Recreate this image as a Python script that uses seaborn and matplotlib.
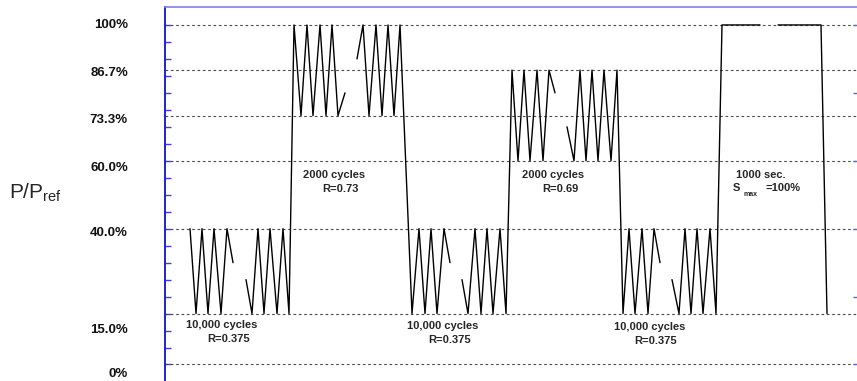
import numpy as np
import pandas as pd
import matplotlib
matplotlib.use("Agg")
import matplotlib.pyplot as plt
import seaborn as sns

# ---------------- data ----------------
# time in arbitrary units, load in % of P_ref; segment id separates broken pieces
time_a = [25, 31, 37, 43, 49, 56, 62, 68]
load_a = [40, 15, 40, 15, 40, 15, 40, 30]

time_b = [81, 87, 93, 99, 105, 112, 118, 124, 129, 136, 142, 148, 155, 161, 167, 173, 180]
load_b = [25, 15, 40, 15, 40, 15, 40, 15, 100, 73.3, 100, 73.3, 100, 73.3, 100, 73.3, 80]

time_c = [192, 198, 204, 211, 217, 223, 229, 235, 247, 254, 260, 266, 272, 279, 285]
load_c = [90, 100, 73.3, 100, 73.3, 100, 73.3, 100, 15, 40, 15, 40, 15, 40, 30]

time_d = [297, 303, 310, 316, 322, 328, 335, 341, 347, 353, 359, 365, 372, 378, 384, 390]
load_d = [25, 15, 40, 15, 40, 15, 40, 15, 86.7, 60, 86.7, 60, 86.7, 60, 86.7, 80]

time_e = [402, 409, 415, 421, 427, 433, 439, 446, 452, 458, 464, 470, 477, 483, 489, 495]
load_e = [70, 60, 86.7, 60, 86.7, 60, 86.7, 60, 86.7, 15, 40, 15, 40, 15, 40, 30]

time_f = [507, 514, 520, 526, 532, 538, 545, 551, 557, 595]
load_f = [25, 15, 40, 15, 40, 15, 40, 15, 100, 100]

time_g = [613, 656, 662]
load_g = [100, 100, 15]

grid_levels = [0, 15, 40, 60, 73.3, 86.7, 100]
level_labels = ["0%", "15.0%", "40.0%", "60.0%", "73.3%", "86.7%", "100%"]

block_text = [
    ("10,000 cycles", "R=0.375"),
    ("2000 cycles", "R=0.73"),
    ("10,000 cycles", "R=0.375"),
    ("2000 cycles", "R=0.69"),
    ("10,000 cycles", "R=0.375"),
]
hold_text = "1000 sec."
hold_text2 = "=100%"

# ---------------- build table ----------------
segments = [(time_a, load_a), (time_b, load_b), (time_c, load_c), (time_d, load_d),
            (time_e, load_e), (time_f, load_f), (time_g, load_g)]
rows = []
for sid, (t, p) in enumerate(segments):
    for ti, pi in zip(t, p):
        rows.append({"time": ti, "load": pi, "seg": sid})
df = pd.DataFrame(rows)

# ---------------- style ----------------
sns.set_theme(style="white")
plt.rcParams["font.family"] = ["Liberation Sans", "DejaVu Sans"]
plt.rcParams["mathtext.fontset"] = "custom"
plt.rcParams["mathtext.rm"] = "Liberation Sans"
plt.rcParams["mathtext.default"] = "regular"

fig = plt.figure(figsize=(8.57, 3.81), dpi=100)
ax = fig.add_axes([165 / 857, 0.0, 692 / 857, 1 - 7.3 / 381])
ax.set_xlim(0, 692)
ax.set_ylim(-4.86, 105.2)

# grid lines
for lv in grid_levels:
    ax.axhline(lv, color="#4a4a4a", lw=0.8, dashes=(2.4, 2.4), zorder=1)

sns.lineplot(data=df, x="time", y="load", units="seg", estimator=None, sort=False,
             color="black", lw=1.0, ax=ax, legend=False, zorder=3)

ax.set_xlabel("")
ax.set_ylabel("")
ax.set_xticks([])
ax.set_yticks(np.arange(0, 101, 5))
ax.set_yticklabels([])
ax.tick_params(axis="y", which="both", left=True, right=False, direction="in",
               length=4, width=1.0, color="#4040e0")

for side in ["right", "bottom"]:
    ax.spines[side].set_visible(False)
ax.spines["left"].set_color("#1010d0")
ax.spines["left"].set_linewidth(1.3)
ax.spines["top"].set_color("#8080e6")
ax.spines["top"].set_linewidth(1.2)

# right side small ticks
ax2 = ax.twinx()
ax2.set_ylim(ax.get_ylim())
ax2.set_yticks([0, 20, 40, 60, 80, 100])
ax2.set_yticklabels([])
ax2.tick_params(axis="y", right=True, direction="in", length=3, width=1.0, color="#6060e0")
for s in ax2.spines.values():
    s.set_visible(False)
ax2.grid(False)

# level labels (placed slightly below their lines, as in the reference)
label_pos = [-2.9, 10.3, 38.8, 57.9, 72.1, 85.9, 100]
trans = ax.get_yaxis_transform()
for lab, yp in zip(level_labels, label_pos):
    ax.text(-37 / 692, yp, lab, transform=trans, ha="right", va="center",
            fontsize=9.5, fontweight="bold", color="#111111")

# block annotations
ann_pos = [((57, 11.5), (64, 7.4)),
           ((169, 55.9), (175.5, 51.8)),
           ((277.5, 11.2), (284.5, 7.1)),
           ((388, 55.9), (395.5, 51.8)),
           ((484.5, 10.9), (491, 6.8))]
for (l1, l2), (p1, p2) in zip(block_text, ann_pos):
    ax.text(p1[0], p1[1], l1, ha="center", va="center", fontsize=8, fontweight="bold")
    ax.text(p2[0], p2[1], l2, ha="center", va="center", fontsize=8, fontweight="bold")

ax.text(596, 55.9, hold_text, ha="center", va="center", fontsize=8, fontweight="bold")
ax.text(568, 52.1, "S", ha="left", va="center", fontsize=8, fontweight="bold")
ax.text(579, 50.0, "max", ha="left", va="center", fontsize=5, fontweight="bold")
ax.text(600, 52.1, hold_text2, ha="left", va="center", fontsize=8, fontweight="bold")

# axis title
fig.text(9 / 857, 1 - 198.3 / 381, r"$P/P_{ref}$", fontsize=15, ha="left", va="baseline")

fig.savefig("out.png", dpi=100)
